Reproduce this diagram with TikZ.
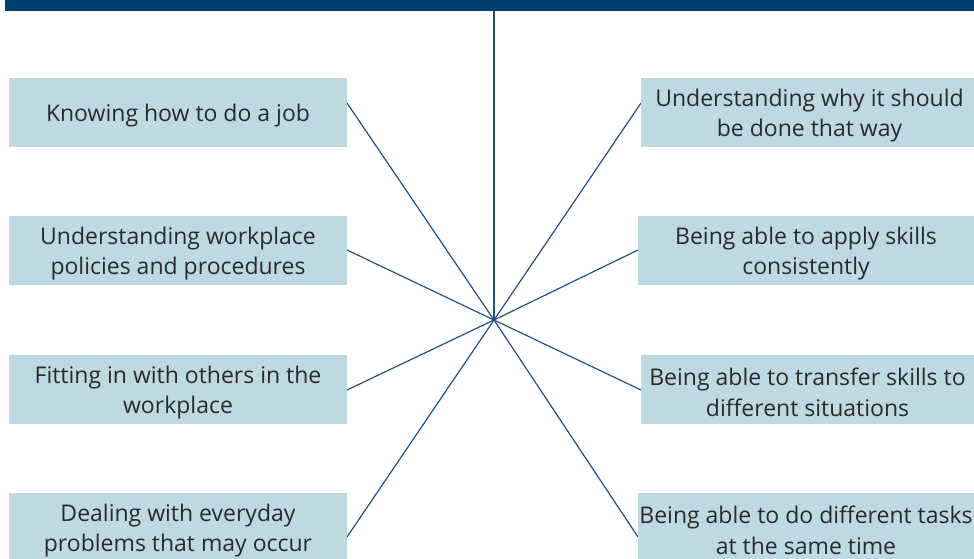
\documentclass[tikz,border=0pt]{standalone}
\usepackage{fontspec}
\setmainfont{Open Sans}
\definecolor{barblue}{HTML}{004070}
\definecolor{lineblue}{HTML}{1F5182}
\definecolor{boxfill}{HTML}{BFD9E3}
\definecolor{txt}{HTML}{2A2A2A}
\begin{document}
\begin{tikzpicture}[x=1pt,y=-1pt,
  box/.style={fill=boxfill, draw=none, inner sep=0pt, minimum height=69pt},
  lbox/.style={box, minimum width=338pt},
  rbox/.style={box, minimum width=333pt},
  rboxw/.style={box, minimum width=336pt},
  lbl/.style={inner sep=0pt, align=center, text=txt, yshift=-3pt,
    font=\fontsize{23}{30.5}\selectfont},
  ray/.style={draw=lineblue, line width=1.2pt}]
\useasboundingbox (0,0) rectangle (974,559);
% top bar
\fill[barblue] (5,0) rectangle (974,11);
\coordinate (top) at (494,11);
\coordinate (c) at (494,320);
% ray end points on box edges
\coordinate (l1) at (347,103);
\coordinate (l2) at (347,250);
\coordinate (l3) at (347,390);
\coordinate (l4) at (347,537);
\coordinate (r1) at (641,103);
\coordinate (r2) at (638,250);
\coordinate (r3) at (641,390);
\coordinate (r4) at (638,537);
\draw[ray] (top) -- (c);
\draw[ray] (l1) -- (c) -- (r4);
\draw[ray] (l2) -- (c) -- (r3);
\draw[ray] (l3) -- (c) -- (r2);
\draw[ray] (l4) -- (c) -- (r1);
% boxes
\node[lbox] (b1) at (178,112.5) {};
\node[lbox] (b2) at (178,250.5) {};
\node[lbox] (b3) at (178,389.5) {};
\node[lbox] (b4) at (178,527.5) {};
\node[rbox] (a1) at (807.5,112.5) {};
\node[rboxw] (a2) at (806,250.5) {};
\node[rbox] (a3) at (807.5,389.5) {};
\node[rboxw] (a4) at (806,527.5) {};
% texts
\node[lbl] (tb1) at (b1.center) {Knowing how to do a job};
\node[lbl] (tb2) at (b2.center) {Understanding workplace\\policies and procedures};
\node[lbl] (tb3) at (b3.center) {Fitting in with others in the\\workplace};
\node[lbl] (tb4) at (b4.center) {Dealing with everyday\\problems that may occur};
\node[lbl] (ta1) at ([xshift=2pt]a1.center) {Understanding why it should\\be done that way};
\node[lbl] (ta2) at (a2.center) {Being able to apply skills\\consistently};
\node[lbl] (ta3) at (a3.center) {Being able to transfer skills to\\different situations};
\node[lbl] (ta4) at (a4.center) {Being able to do different tasks\\at the same time};
\end{tikzpicture}
\end{document}
